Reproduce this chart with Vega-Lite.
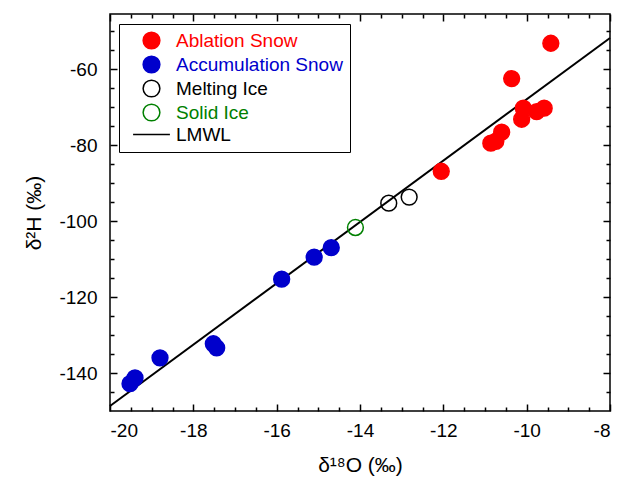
{
  "$schema": "https://vega.github.io/schema/vega-lite/v6.json",
  "width": 500,
  "height": 397,
  "autosize": {"type": "none"},
  "padding": {"left": 110, "top": 14, "right": 18, "bottom": 70},
  "background": "white",
  "config": {
    "view": {"stroke": "black", "strokeWidth": 1.5},
    "font": "Liberation Sans",
    "axis": {
      "grid": false,
      "domain": false,
      "tickColor": "black",
      "tickWidth": 1.5,
      "labelColor": "black",
      "labelFont": "Liberation Sans",
      "labelFontSize": 19,
      "labelExpr": "replace(datum.label, '−', '-')",
      "titleFont": "Liberation Sans",
      "titleFontSize": 21,
      "titleFontWeight": "normal",
      "titleColor": "black"
    }
  },
  "datasets": {
    "lmwl": [
      {"d18O": -20, "d2H": -148.7},
      {"d18O": -8, "d2H": -51.8}
    ],
    "samples": [
      {"d18O": -9.42, "d2H": -53.2, "type": "Ablation Snow"},
      {"d18O": -10.36, "d2H": -62.5, "type": "Ablation Snow"},
      {"d18O": -10.08, "d2H": -70.3, "type": "Ablation Snow"},
      {"d18O": -10.12, "d2H": -73.2, "type": "Ablation Snow"},
      {"d18O": -9.76, "d2H": -71.2, "type": "Ablation Snow"},
      {"d18O": -9.58, "d2H": -70.3, "type": "Ablation Snow"},
      {"d18O": -10.6, "d2H": -76.6, "type": "Ablation Snow"},
      {"d18O": -10.74, "d2H": -79.0, "type": "Ablation Snow"},
      {"d18O": -10.86, "d2H": -79.5, "type": "Ablation Snow"},
      {"d18O": -12.05, "d2H": -86.9, "type": "Ablation Snow"},
      {"d18O": -14.69, "d2H": -107.0, "type": "Accumulation Snow"},
      {"d18O": -15.1, "d2H": -109.5, "type": "Accumulation Snow"},
      {"d18O": -15.88, "d2H": -115.3, "type": "Accumulation Snow"},
      {"d18O": -17.52, "d2H": -132.3, "type": "Accumulation Snow"},
      {"d18O": -17.44, "d2H": -133.4, "type": "Accumulation Snow"},
      {"d18O": -18.8, "d2H": -136.0, "type": "Accumulation Snow"},
      {"d18O": -19.4, "d2H": -141.3, "type": "Accumulation Snow"},
      {"d18O": -19.52, "d2H": -142.8, "type": "Accumulation Snow"},
      {"d18O": -13.31, "d2H": -95.3, "type": "Melting Ice"},
      {"d18O": -12.82, "d2H": -93.7, "type": "Melting Ice"},
      {"d18O": -14.11, "d2H": -101.7, "type": "Solid Ice"}
    ]
  },
  "resolve": {"axis": {"x": "independent", "y": "independent"}},
  "layer": [
    {
      "data": {"name": "lmwl"},
      "mark": {"type": "line", "color": "black", "strokeWidth": 2},
      "encoding": {
        "x": {
          "field": "d18O", "type": "quantitative",
          "scale": {"domain": [-20, -8], "nice": false, "zero": false},
          "axis": {"orient": "bottom", "values": [-20, -18, -16, -14, -12, -10, -8], "tickSize": -7, "labelPadding": 17, "title": "δ¹⁸O (‰)", "titlePadding": 14}
        },
        "y": {
          "field": "d2H", "type": "quantitative",
          "scale": {"domain": [-150, -45.5], "nice": false, "zero": false},
          "axis": {"orient": "left", "values": [-140, -120, -100, -80, -60], "tickSize": -7, "labelPadding": 20, "title": "δ²H (‰)", "titlePadding": 14}
        }
      }
    },
    {
      "data": {"name": "samples"},
      "mark": {"type": "point", "shape": "circle", "size": 250, "strokeWidth": 1.5, "opacity": 1},
      "encoding": {
        "x": {
          "field": "d18O", "type": "quantitative",
          "axis": {"orient": "bottom", "values": [-19.5, -19, -18.5, -17.5, -17, -16.5, -15.5, -15, -14.5, -13.5, -13, -12.5, -11.5, -11, -10.5, -9.5, -9, -8.5], "tickSize": -4, "labels": false, "title": null}
        },
        "y": {
          "field": "d2H", "type": "quantitative",
          "axis": {"orient": "left", "values": [-145, -135, -130, -125, -115, -110, -105, -95, -90, -85, -75, -70, -65, -55, -50], "tickSize": -4, "labels": false, "title": null}
        },
        "fill": {
          "field": "type", "type": "nominal",
          "scale": {"domain": ["Ablation Snow", "Accumulation Snow", "Melting Ice", "Solid Ice", "LMWL"], "range": ["#ff0000", "#0000cc", "transparent", "transparent", "transparent"]},
          "legend": {
            "title": null, "orient": "none", "legendX": 9, "legendY": 10,
            "strokeColor": "black", "padding": 7,
            "labelFont": "Liberation Sans", "labelFontSize": 19, "labelOffset": 15, "labelLimit": 400,
            "labelColor": {"expr": "datum.value === 'Ablation Snow' ? '#ff0000' : datum.value === 'Accumulation Snow' ? '#0000cc' : datum.value === 'Solid Ice' ? '#008000' : 'black'"},
            "symbolSize": 280, "symbolStrokeWidth": 1.5, "symbolOffset": 16, "rowPadding": 1
          }
        },
        "stroke": {
          "field": "type", "type": "nominal",
          "scale": {"domain": ["Ablation Snow", "Accumulation Snow", "Melting Ice", "Solid Ice", "LMWL"], "range": ["#ff0000", "#0000cc", "black", "#008000", "black"]}
        },
        "shape": {
          "field": "type", "type": "nominal",
          "scale": {"domain": ["Ablation Snow", "Accumulation Snow", "Melting Ice", "Solid Ice", "LMWL"], "range": ["circle", "circle", "circle", "circle", "M-2.2,0H2.2"]}
        }
      }
    },
    {
      "data": {"name": "lmwl"},
      "mark": {"type": "line", "opacity": 0},
      "encoding": {
        "x": {
          "field": "d18O", "type": "quantitative",
          "axis": {"orient": "top", "values": [-20, -18, -16, -14, -12, -10, -8], "tickSize": -7, "labels": false, "title": null}
        },
        "y": {
          "field": "d2H", "type": "quantitative",
          "axis": {"orient": "right", "values": [-140, -120, -100, -80, -60], "tickSize": -7, "labels": false, "title": null}
        }
      }
    },
    {
      "data": {"name": "lmwl"},
      "mark": {"type": "line", "opacity": 0},
      "encoding": {
        "x": {
          "field": "d18O", "type": "quantitative",
          "axis": {"orient": "top", "values": [-19.5, -19, -18.5, -17.5, -17, -16.5, -15.5, -15, -14.5, -13.5, -13, -12.5, -11.5, -11, -10.5, -9.5, -9, -8.5], "tickSize": -4, "labels": false, "title": null}
        },
        "y": {
          "field": "d2H", "type": "quantitative",
          "axis": {"orient": "right", "values": [-145, -135, -130, -125, -115, -110, -105, -95, -90, -85, -75, -70, -65, -55, -50], "tickSize": -4, "labels": false, "title": null}
        }
      }
    }
  ]
}
